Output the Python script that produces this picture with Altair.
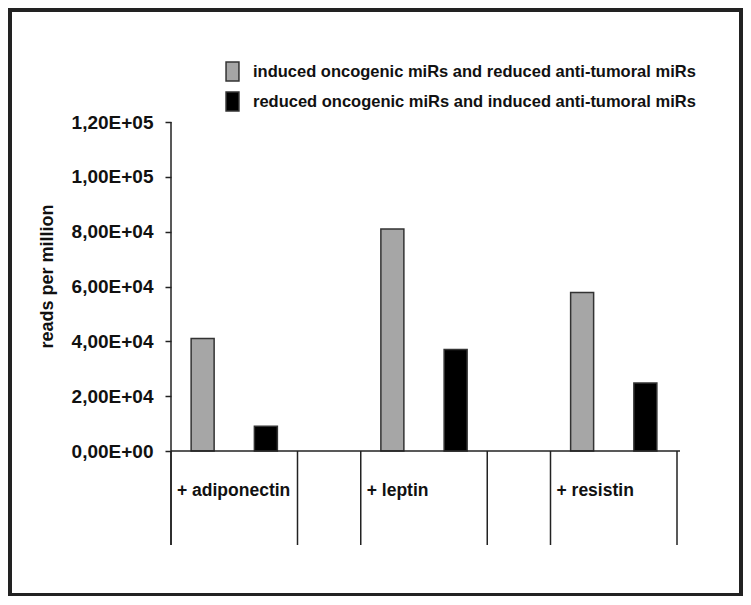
import altair as alt
import pandas as pd

# ---- data ----
groups = ["+ adiponectin", "+ leptin", "+ resistin"]
series_names = [
    "induced oncogenic miRs and reduced anti-tumoral miRs",
    "reduced oncogenic miRs and induced anti-tumoral miRs",
]
induced = [41000, 81000, 57800]
reduced = [9000, 37000, 24800]
series_colors = ["#a6a6a6", "#000000"]
y_tick_values = [0, 20000, 40000, 60000, 80000, 100000, 120000]
y_tick_labels = ["0,00E+00", "2,00E+04", "4,00E+04", "6,00E+04",
                 "8,00E+04", "1,00E+05", "1,20E+05"]
y_title = "reads per million"

# ---- tables built from the lists ----
slots_per_group = 3  # two bars + one empty category slot
n_slots = slots_per_group * len(groups) - 1
rows = []
for g, name in enumerate(groups):
    for s, vals in enumerate([induced, reduced]):
        rows.append({"group": name, "series": series_names[s],
                     "pos": g * slots_per_group + s + 0.5, "value": vals[g]})
bars_df = pd.DataFrame(rows)
groups_df = pd.DataFrame({"group": groups,
                          "start": [g * slots_per_group for g in range(len(groups))]})
bounds = sorted(set([g * slots_per_group for g in range(len(groups))] +
                    [g * slots_per_group + 2 for g in range(len(groups))]))
bounds_df = pd.DataFrame({"b": bounds})

expr = "''"
for v, lab in zip(y_tick_values, y_tick_labels):
    expr = f"datum.value == {v} ? '{lab}' : ({expr})"

FONT = "Liberation Sans"
INK = "#222222"
W, H = 506, 329
TABLE = 94
xscale = alt.Scale(domain=[0, n_slots], nice=False, zero=False, padding=0)

bars = alt.Chart(bars_df).mark_bar(size=23, stroke="#333333", strokeWidth=1.5).encode(
    x=alt.X("pos:Q", scale=xscale,
            axis=alt.Axis(title=None, labels=False, ticks=False, grid=False,
                          domain=False)),
    y=alt.Y("value:Q", scale=alt.Scale(domain=[0, 120000], nice=False),
            axis=alt.Axis(values=y_tick_values, labelExpr=expr, grid=False,
                          domain=False,
                          title=y_title, titleFont=FONT, titleFontSize=18,
                          titleFontWeight="bold", titleColor="#111111",
                          titleX=-119, titleY=154, titleAlign="center",
                          titleBaseline="alphabetic",
                          labelFont=FONT, labelFontSize=19, labelFontWeight="bold",
                          labelColor="#111111", labelPadding=12,
                          tickSize=6, tickColor=INK, tickWidth=1.5)),
    color=alt.Color("series:N",
                    scale=alt.Scale(domain=series_names, range=series_colors),
                    legend=alt.Legend(title=None, orient="none", legendX=51, legendY=-61,
                                      symbolType="M-0.68,-1H0.68V1H-0.68Z",
                                      symbolSize=361, symbolStrokeColor="#333333",
                                      symbolStrokeWidth=1.5,
                                      labelFont=FONT, labelFontSize=16.5,
                                      labelFontWeight="bold", labelColor="#111111",
                                      labelOffset=10, rowPadding=5, padding=0,
                                      labelLimit=600)),
)

# x baseline
x_line = alt.Chart(pd.DataFrame({"k": [0]})).mark_rule(color=INK, strokeWidth=1.5).encode(
    x=alt.value(0), x2=alt.value(W + 3), y=alt.value(H)
)
# y axis line, continuing down into the category table
y_line = alt.Chart(pd.DataFrame({"b": [bounds[0]]})).mark_rule(color=INK, strokeWidth=1.5).encode(
    x=alt.X("b:Q", scale=xscale, axis=None),
    y=alt.value(0),
    y2=alt.value(H + TABLE),
)

table_lines = alt.Chart(bounds_df).mark_rule(color=INK, strokeWidth=1.5).encode(
    x=alt.X("b:Q", scale=xscale, axis=None),
    y=alt.value(H),
    y2=alt.value(H + TABLE),
)

group_text = alt.Chart(groups_df).mark_text(
    align="left", baseline="middle", dx=6, font=FONT, fontSize=17.5,
    fontWeight="bold", color="#111111"
).encode(
    x=alt.X("start:Q", scale=xscale, axis=None),
    y=alt.value(H + 40),
    text="group:N",
)

frame = alt.Chart(pd.DataFrame({"k": [0]})).mark_rect(
    filled=False, stroke=INK, strokeWidth=4
).encode(
    x=alt.value(-161), x2=alt.value(570),
    y=alt.value(-112), y2=alt.value(473),
)

chart = alt.layer(frame, bars, x_line, y_line, table_lines, group_text).properties(
    width=W, height=H,
    autosize=alt.AutoSizeParams(type="none"),
    padding={"left": 163, "top": 114, "right": 66, "bottom": 145},
    background="white",
).configure_view(stroke=None)

chart.save("out.html", embed_options={"renderer": "svg", "actions": False})
